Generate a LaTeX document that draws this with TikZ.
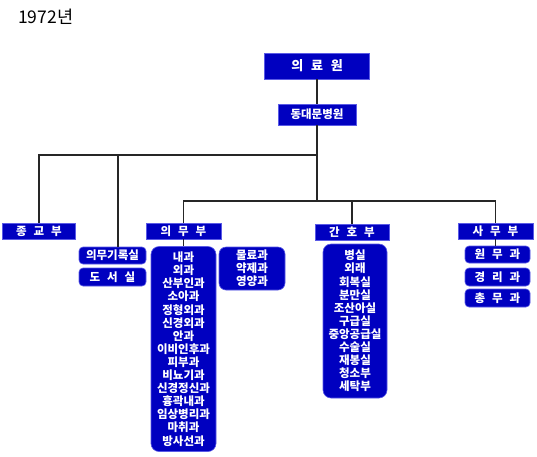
\documentclass[tikz,border=0pt]{standalone}
\usepackage{fontspec}
\newfontfamily\kr{Noto Sans CJK KR}
\definecolor{orgblue}{RGB}{0,0,192}
\definecolor{edgeblue}{RGB}{90,90,230}
\newcommand\gp{\hspace{0.6em}}
\tikzset{
  hbox/.style={fill=orgblue, draw=edgeblue, line width=0.6pt, text=white, inner sep=0pt,
               font=\kr\bfseries\fontsize{11.5}{13}\selectfont},
  rbox/.style={hbox, rounded corners=4pt},
  lbox/.style={hbox, rounded corners=8pt, align=center,
               font=\kr\bfseries\fontsize{11.5}{13.1}\selectfont},
  link/.style={draw=black!85, line width=1.3pt},
  thinlink/.style={draw=black!85, line width=0.8pt}
}
\begin{document}
\begin{tikzpicture}[x=1pt,y=-1pt]
\useasboundingbox (0,0) rectangle (537,456);
\fill[white] (0,0) rectangle (537,456);

\node[anchor=north west, inner sep=0pt, font=\kr\fontsize{17.5}{17.5}\selectfont] (title) at (18,9) {1972년};

\node[hbox, minimum width=105pt, minimum height=26pt, font=\kr\bfseries\fontsize{13}{13}\selectfont] (root) at (317,66) {의\gp 료\gp 원};
\node[hbox, minimum width=78pt, minimum height=21pt, font=\kr\bfseries\fontsize{11.5}{11.5}\selectfont] (dongdae) at (317,114.5) {동대문병원};

\coordinate (h1) at (317,155);
\coordinate (h2) at (317,201);
\coordinate (b2) at (118,155);

% first level
\node[hbox, minimum width=73pt, minimum height=16pt] (jonggyo) at (39,231) {종\gp 교\gp 부};
\node[rbox, minimum width=67pt, minimum height=17pt] (record) at (112.5,255.5) {의무기록실};
\node[rbox, minimum width=67pt, minimum height=18pt] (library) at (112.5,277) {도\gp 서\gp 실};

% second level
\node[hbox, minimum width=75pt, minimum height=16pt] (uimu) at (183.5,231) {의\gp 무\gp 부};
\node[lbox, minimum width=65pt, minimum height=205pt] (list1) at (183.5,349)
  {내과\\외과\\산부인과\\소아과\\정형외과\\신경외과\\안과\\이비인후과\\피부과\\비뇨기과\\신경정신과\\흉곽내과\\임상병리과\\마취과\\방사선과};
\node[lbox, rounded corners=7pt, minimum width=66pt, minimum height=43pt] (list2) at (252,268.5)
  {물료과\\약제과\\영양과};

\node[hbox, minimum width=74pt, minimum height=16pt] (ganho) at (352,232) {간\gp 호\gp 부};
\node[lbox, minimum width=64pt, minimum height=154pt] (list3) at (355,321)
  {병실\\외래\\회복실\\분만실\\조산아실\\구급실\\중앙공급실\\수술실\\재봉실\\청소부\\세탁부};

\node[hbox, minimum width=75pt, minimum height=16pt] (samu) at (495.5,231) {사\gp 무\gp 부};
\node[rbox, minimum width=65pt, minimum height=17pt] (wonmu) at (497.5,254.5) {원\gp 무\gp 과};
\node[rbox, minimum width=65pt, minimum height=18pt] (gyeongri) at (497.5,277) {경\gp 리\gp 과};
\node[rbox, minimum width=65pt, minimum height=18pt] (chongmu) at (497.5,298) {총\gp 무\gp 과};

% connectors
\draw[link] (root.south) -- (dongdae.north);
\draw[link] (dongdae.south) -- (h2);
\draw[link] (jonggyo.north) |- (h1);
\draw[link] (b2) -- (b2 |- record.north);
\draw[link] (uimu.north) |- (h2) -| (samu.north);
\draw[link] (ganho.north) -- (ganho.north |- h2);
\draw[thinlink] (uimu.south) -- (list1.north);
\draw[thinlink] (samu.south) -- (samu.south |- wonmu.north);
\end{tikzpicture}
\end{document}
